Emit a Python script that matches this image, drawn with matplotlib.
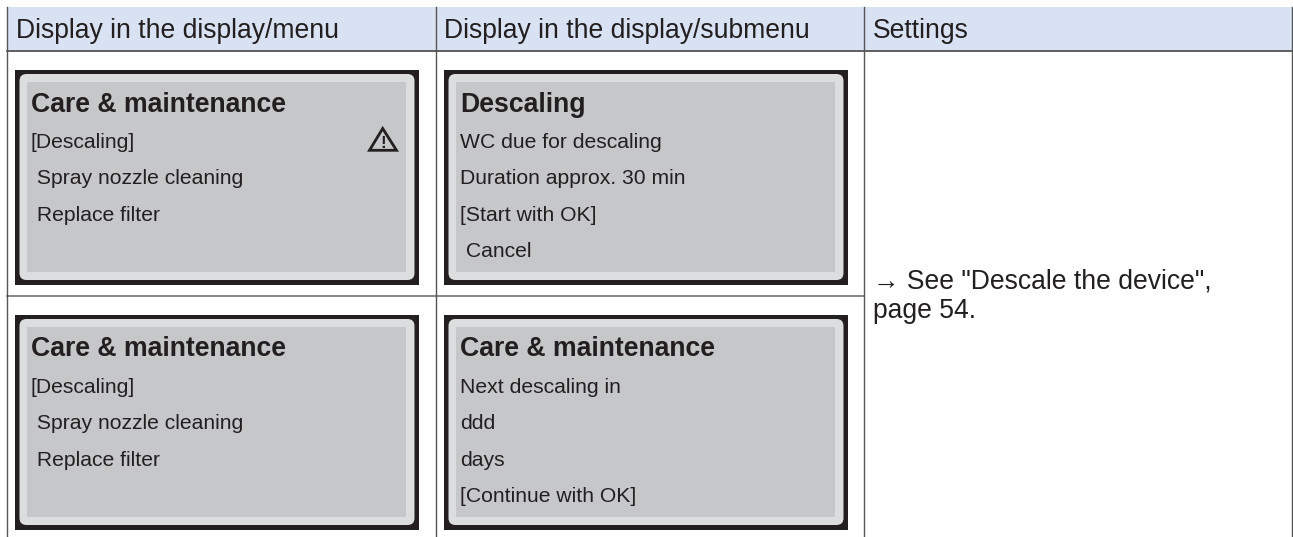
#!/usr/bin/env python3
import matplotlib; matplotlib.use("Agg")
import matplotlib.pyplot as plt
from matplotlib.patches import FancyBboxPatch, Polygon, Rectangle

W, H = 1293, 537
plt.rcParams["font.family"] = ["Liberation Sans", "DejaVu Sans"]

HEADERS = ["Display in the display/menu", "Display in the display/submenu", "Settings"]
MENU_TITLE = "Care & maintenance"
MENU_ITEMS = ["[Descaling]", " Spray nozzle cleaning", " Replace filter"]
DESCALE_TITLE = "Descaling"
DESCALE_ITEMS = ["WC due for descaling", "Duration approx. 30 min", "[Start with OK]", " Cancel"]
NEXT_TITLE = "Care & maintenance"
NEXT_ITEMS = ["Next descaling in", "ddd", "days", "[Continue with OK]"]
SETTINGS = ["\u2192 See \"Descale the device\",", "page 54."]

INK = "#231f20"
COLS = [7, 435.5, 864, 1292]

fig = plt.figure(figsize=(W/100, H/100), dpi=100)
ax = fig.add_axes([0, 0, 1, 1])
ax.set_xlim(0, W); ax.set_ylim(H, 0); ax.axis("off")

def panel(x, y, title, items):
    """one display screen, x/y = top left of the black frame"""
    ax.add_patch(Rectangle((x, y), 404, 215, fc=INK, ec="none", zorder=2))
    ax.add_patch(FancyBboxPatch((x+4.5, y+4), 395, 206, boxstyle="round,pad=0,rounding_size=7",
                                fc="#dcddde", ec="none", zorder=3))
    ax.add_patch(Rectangle((x+12, y+12), 379, 190, fc="#c6c7c9", ec="none", zorder=4))
    ax.text(x+16, y+41.5, title, fontsize=19.2, fontweight="bold", color=INK, zorder=5)
    for i, t in enumerate(items):
        ax.text(x+16, y+78+i*36.4, t, fontsize=15.2, color=INK, zorder=5)

# header band + grid
ax.add_patch(Rectangle((COLS[0], 7), COLS[-1]-COLS[0], 43, fc="#d9e2f2", ec="none", zorder=0))
ax.plot([COLS[0], COLS[-1]], [50.5, 50.5], color="#333333", lw=1.1, zorder=1)
ax.plot([COLS[0], COLS[2]], [295.5, 295.5], color="#666666", lw=1.1, zorder=1)
for x in COLS:
    ax.plot([x, x], [7, H], color="#555555", lw=1.0, zorder=1)
for x, t in zip([16, 444, 873], HEADERS):
    ax.text(x, 38, t, fontsize=19.1, color=INK)

panel(15, 70, MENU_TITLE, MENU_ITEMS)
panel(444, 70, DESCALE_TITLE, DESCALE_ITEMS)
panel(15, 315, MENU_TITLE, MENU_ITEMS)
panel(444, 315, NEXT_TITLE, NEXT_ITEMS)

# warning sign
ax.add_patch(Polygon([(382.7, 128.5), (369.5, 150.3), (396.5, 150.3)], closed=True, fc="none", ec=INK, lw=2.0, zorder=5))
ax.text(382.7, 147.5, "!", fontsize=12, fontweight="bold", color=INK, ha="center", zorder=6)

for i, t in enumerate(SETTINGS):
    ax.text(873, 289+i*29, t, fontsize=19.1, color=INK)

fig.savefig("out.png", dpi=100)
